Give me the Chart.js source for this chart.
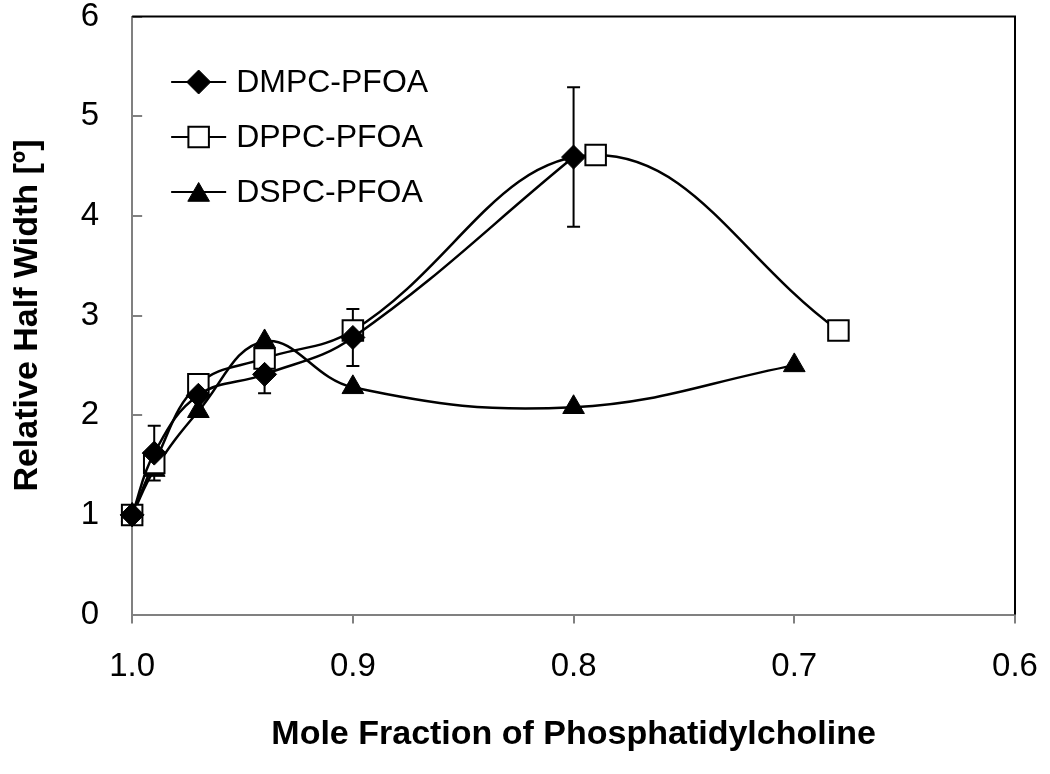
<!DOCTYPE html>
<html>
<head>
<meta charset="utf-8">
<script src="https://cdn.jsdelivr.net/npm/chart.js@4.4.1/dist/chart.umd.min.js"></script>
<style>
    html, body { margin: 0; padding: 0; background: #fff; }
    #wrap { width: 1050px; height: 774px; }
</style>
</head>
<body>
<div id="wrap"><canvas id="widthChart" width="1050" height="774"></canvas></div>
<script>
// values
const seriesNames = ['DMPC-PFOA', 'DPPC-PFOA', 'DSPC-PFOA'];

const dmpcX = [1.0, 0.99, 0.97, 0.94, 0.9, 0.8];
const dmpcY = [1.0, 1.62, 2.2, 2.41, 2.78, 4.59];
const dmpcErr = [0, 0.275, 0, 0.19, 0.285, 0.70];

const dppcX = [1.0, 0.99, 0.97, 0.94, 0.9, 0.79, 0.68];
const dppcY = [1.0, 1.52, 2.31, 2.57, 2.85, 4.61, 2.85];

const dspcX = [1.0, 0.99, 0.97, 0.94, 0.9, 0.8, 0.7];
const dspcY = [1.0, 1.45, 2.04, 2.74, 2.28, 2.08, 2.5];

const xTicks = [1.0, 0.9, 0.8, 0.7, 0.6];
const yTicks = [0, 1, 2, 3, 4, 5, 6];

const FONT = "'Liberation Sans', Arial, sans-serif";

function toPoints(xs, ys) {
    return xs.map(function (x, i) { return { x: x, y: ys[i] }; });
}

// marker styles, shared by the plot and the legend
const markers = [
    { style: 'rectRot', radius: 12, fill: '#000', border: '#000', width: 1 },
    { style: 'rect', radius: 14.5, fill: '#fff', border: '#000', width: 2 },
    { style: 'triangle', radius: 12.5, fill: '#000', border: '#000', width: 1 }
];

function makeDataset(i, pts) {
    const m = markers[i];
    return {
        label: seriesNames[i],
        data: pts,
        borderColor: '#000',
        borderWidth: 2.5,
        tension: 0.4,
        pointStyle: m.style,
        pointRadius: m.radius,
        pointBackgroundColor: m.fill,
        pointBorderColor: m.border,
        pointBorderWidth: m.width,
        clip: false
    };
}

// error bars on the DMPC series
const errorBars = {
    id: 'errorBars',
    beforeDatasetsDraw: function (chart) {
        const ctx = chart.ctx;
        const xs = chart.scales.x, ys = chart.scales.y;
        ctx.save();
        ctx.strokeStyle = '#000';
        ctx.lineWidth = 2;
        for (let i = 0; i < dmpcX.length; i++) {
            if (!dmpcErr[i]) continue;
            const px = xs.getPixelForValue(dmpcX[i]);
            const top = ys.getPixelForValue(dmpcY[i] + dmpcErr[i]);
            const bot = ys.getPixelForValue(dmpcY[i] - dmpcErr[i]);
            ctx.beginPath();
            ctx.moveTo(px, top); ctx.lineTo(px, bot);
            ctx.moveTo(px - 6.5, top); ctx.lineTo(px + 6.5, top);
            ctx.moveTo(px - 6.5, bot); ctx.lineTo(px + 6.5, bot);
            ctx.stroke();
        }
        ctx.restore();
    }
};

// inside tick marks on y, black frame on top and right
const frame = {
    id: 'frame',
    beforeDatasetsDraw: function (chart) {
        const ctx = chart.ctx;
        const a = chart.chartArea;
        const ys = chart.scales.y;
        ctx.save();
        ctx.strokeStyle = '#808080';
        ctx.lineWidth = 2;
        yTicks.forEach(function (v) {
            const py = Math.round(ys.getPixelForValue(v));
            ctx.beginPath();
            ctx.moveTo(a.left, py);
            ctx.lineTo(a.left + 10, py);
            ctx.stroke();
        });
        ctx.strokeStyle = '#000';
        ctx.beginPath();
        ctx.moveTo(a.left, a.top);
        ctx.lineTo(a.right, a.top);
        ctx.lineTo(a.right, a.bottom);
        ctx.stroke();
        ctx.restore();
    }
};

function drawMarker(ctx, m, x, y) {
    const r = m.radius;
    ctx.beginPath();
    if (m.style === 'rectRot') {
        ctx.moveTo(x - r, y); ctx.lineTo(x, y - r);
        ctx.lineTo(x + r, y); ctx.lineTo(x, y + r);
    } else if (m.style === 'rect') {
        const s = Math.SQRT1_2 * r;
        ctx.rect(x - s, y - s, 2 * s, 2 * s);
    } else {
        ctx.moveTo(x, y - r);
        ctx.lineTo(x + r * Math.sin(2 * Math.PI / 3), y + r * 0.5);
        ctx.lineTo(x - r * Math.sin(2 * Math.PI / 3), y + r * 0.5);
    }
    ctx.closePath();
    ctx.fillStyle = m.fill;
    ctx.fill();
    ctx.lineWidth = m.width;
    ctx.strokeStyle = m.border;
    ctx.stroke();
}

// legend inside the plot, top left
const insideLegend = {
    id: 'insideLegend',
    afterDraw: function (chart) {
        const ctx = chart.ctx;
        const a = chart.chartArea;
        ctx.save();
        ctx.font = '32px ' + FONT;
        ctx.textBaseline = 'middle';
        ctx.textAlign = 'left';
        seriesNames.forEach(function (name, i) {
            const y = a.top + 65.5 + i * 55;
            ctx.strokeStyle = '#000';
            ctx.lineWidth = 2;
            ctx.beginPath();
            ctx.moveTo(a.left + 39, y);
            ctx.lineTo(a.left + 94, y);
            ctx.stroke();
            drawMarker(ctx, markers[i], a.left + 66.5, y + (markers[i].style === 'triangle' ? 3 : 0));
            ctx.fillStyle = '#000';
            ctx.fillText(name, a.left + 104, y + 1);
        });
        ctx.restore();
    }
};

// keep label overhang out of the layout, the padding below sets the plot box
function noOverhang(scale) {
    scale.paddingTop = 0;
    scale.paddingBottom = 0;
    scale.paddingLeft = 0;
    scale.paddingRight = 0;
}

const ctx = document.getElementById('widthChart').getContext('2d');
const widthChart = new Chart(ctx, {
    type: 'line',
    data: {
        datasets: [
            makeDataset(0, toPoints(dmpcX, dmpcY)),
            makeDataset(1, toPoints(dppcX, dppcY)),
            makeDataset(2, toPoints(dspcX, dspcY))
        ]
    },
    options: {
        responsive: false,
        animation: false,
        events: [],
        layout: { padding: { left: 0, top: 16.5, right: 35, bottom: 19 } },
        plugins: {
            legend: { display: false },
            tooltip: { enabled: false }
        },
        scales: {
            x: {
                type: 'linear',
                reverse: true,
                min: 0.6,
                max: 1.0,
                afterBuildTicks: function (scale) {
                    scale.ticks = xTicks.map(function (v) { return { value: v }; });
                },
                afterFit: noOverhang,
                ticks: {
                    color: '#000',
                    padding: 24,
                    font: { family: FONT, size: 33, lineHeight: 1.2 },
                    maxRotation: 0,
                    callback: function (v) { return Number(v).toFixed(1); }
                },
                grid: {
                    display: true,
                    drawOnChartArea: false,
                    drawTicks: true,
                    tickLength: 9,
                    color: '#808080',
                    lineWidth: 2
                },
                border: { display: true, color: '#808080', width: 2 },
                title: {
                    display: true,
                    text: 'Mole Fraction of Phosphatidylcholine',
                    color: '#000',
                    font: { family: FONT, size: 34, weight: 'bold', lineHeight: 1.2 },
                    padding: { top: 3, bottom: 0 }
                }
            },
            y: {
                min: 0,
                max: 6,
                afterBuildTicks: function (scale) {
                    scale.ticks = yTicks.map(function (v) { return { value: v }; });
                },
                afterFit: noOverhang,
                ticks: {
                    color: '#000',
                    padding: 33,
                    font: { family: FONT, size: 33, lineHeight: 1 }
                },
                grid: { display: true, drawOnChartArea: false, drawTicks: false },
                border: { display: true, color: '#808080', width: 2 },
                title: {
                    display: true,
                    text: 'Relative Half Width [º]',
                    color: '#000',
                    font: { family: FONT, size: 34, weight: 'bold', lineHeight: 1.2 },
                    padding: { top: 7, bottom: 0 }
                }
            }
        }
    },
    plugins: [errorBars, frame, insideLegend]
});
</script>
</body>
</html>
